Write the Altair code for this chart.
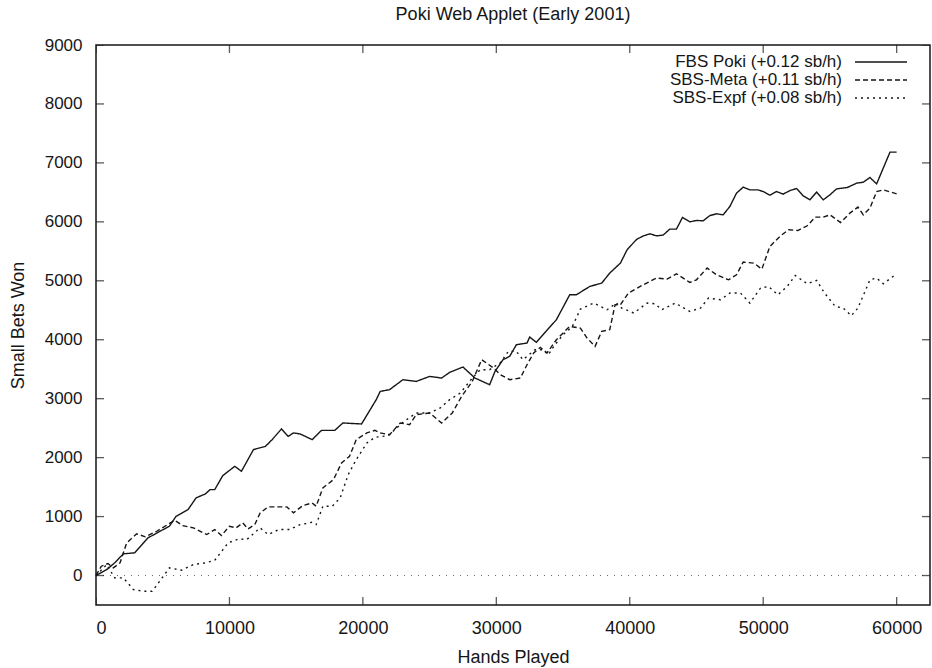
import altair as alt
import pandas as pd

# ---- data (hands played in thousands, small bets won) ----
series_names = ["FBS Poki (+0.12 sb/h)", "SBS-Meta (+0.11 sb/h)", "SBS-Expf (+0.08 sb/h)"]

fbs_x = [0, 0.8, 1.4, 2.05, 2.9, 3.9, 4.8, 5.5, 6.0, 6.9, 7.5, 8.2, 8.55, 8.9, 9.5, 10.4, 10.9,
         11.8, 12.7, 13.2, 13.9, 14.4, 14.8, 15.3, 16.2, 16.9, 17.9, 18.5, 19.9, 20.4, 21.0, 21.3,
         22.0, 23.0, 24.0, 25.0, 25.9, 26.5, 27.5, 28.4, 29.5, 29.9, 30.5, 31.0, 31.5, 32.3, 32.5,
         33.0, 33.5, 34.5, 35.5, 36.0, 37.0, 37.9, 38.5, 39.3, 39.8, 40.5, 41.0, 41.5, 42.0, 42.5,
         43.0, 43.5, 43.95, 44.5, 45.0, 45.5, 46.0, 46.5, 47.0, 47.5, 48.0, 48.5, 49.0, 49.6, 50.0,
         50.5, 51.0, 51.5, 52.0, 52.5, 53.0, 53.5, 54.0, 54.5, 55.0, 55.5, 56.3, 57.0, 57.5, 58.0,
         58.5, 59.5, 60.0]
fbs_y = [0, 100, 215, 368, 385, 639, 751, 836, 1005, 1119, 1317, 1385, 1458, 1458, 1695, 1853, 1768,
         2136, 2192, 2305, 2487, 2361, 2419, 2402, 2305, 2463, 2463, 2588, 2571, 2758, 2983, 3124,
         3153, 3322, 3293, 3378, 3350, 3446, 3537, 3350, 3237, 3463, 3661, 3718, 3915, 3944, 4046,
         3955, 4085, 4339, 4763, 4763, 4904, 4961, 5131, 5300, 5526, 5700, 5760, 5797, 5763, 5775,
         5877, 5877, 6074, 6000, 6023, 6017, 6107, 6136, 6119, 6260, 6487, 6588, 6543, 6543, 6514,
         6453, 6514, 6470, 6531, 6565, 6441, 6373, 6504, 6373, 6458, 6560, 6582, 6656, 6673, 6752,
         6644, 7182, 7182]

meta_x = [0, 0.4, 0.9, 1.3, 1.8, 2.3, 3.05, 3.7, 4.55, 5.9, 6.5, 7.3, 8.3, 8.9, 9.4, 10.0, 10.5,
          11.0, 11.4, 11.9, 12.3, 12.9, 14.3, 14.8, 15.5, 16.2, 16.5, 17.0, 17.8, 18.4, 19.0, 19.5,
          20.3, 20.9, 21.3, 22.0, 22.8, 23.5, 24.0, 25.0, 25.9, 26.7, 27.4, 28.2, 28.9, 29.8, 30.3,
          31.0, 31.8, 32.3, 32.8, 33.3, 33.8, 34.5, 35.5, 36.3, 36.8, 37.4, 37.9, 38.5, 38.9, 39.3,
          39.9, 41.0, 42.0, 42.8, 43.5, 44.5, 45.0, 45.8, 46.5, 47.4, 48.0, 48.5, 49.3, 49.9, 50.5,
          51.3, 51.9, 52.6, 53.3, 53.9, 54.5, 55.0, 55.8, 56.5, 57.1, 57.5, 58.0, 58.5, 59.0, 60.0]
meta_y = [0, 158, 203, 130, 215, 554, 707, 656, 751, 937, 847, 808, 695, 780, 678, 836, 808,
          893, 791, 864, 1063, 1164, 1164, 1063, 1187, 1232, 1175, 1487, 1627, 1910, 2022, 2305,
          2419, 2463, 2419, 2390, 2588, 2560, 2729, 2758, 2588, 2758, 3039, 3293, 3661, 3520, 3407,
          3322, 3350, 3576, 3775, 3870, 3775, 4000, 4226, 4198, 4029, 3887, 4141, 4170, 4594, 4594,
          4792, 4932, 5046, 5029, 5119, 4972, 5017, 5216, 5102, 5017, 5102, 5317, 5300, 5198, 5582,
          5763, 5865, 5853, 5933, 6080, 6080, 6119, 5989, 6148, 6250, 6119, 6232, 6514, 6543, 6475]

expf_x = [0, 0.8, 1.4, 2.05, 2.8, 3.5, 4.2, 4.5, 5.5, 6.4, 7.3, 8.2, 8.9, 9.9, 10.7, 11.3, 12.3,
          12.9, 13.7, 14.5, 15.3, 16.2, 16.5, 17.0, 17.7, 18.3, 18.9, 19.5, 20.3, 20.9, 21.9, 23.0,
          24.0, 25.0, 25.8, 26.5, 27.3, 28.2, 28.8, 29.5, 30.3, 30.9, 31.5, 32.0, 32.9, 33.5, 33.9,
          34.3, 35.0, 35.7, 36.3, 37.3, 38.3, 39.0, 39.4, 40.3, 41.3, 41.9, 42.4, 43.4, 44.5, 45.3,
          45.9, 46.8, 47.5, 48.3, 49.0, 49.8, 50.4, 51.1, 51.8, 52.4, 53.3, 54.0, 54.6, 55.4, 56.0,
          56.6, 57.1, 58.0, 58.5, 59.0, 60.0]
expf_y = [0, 186, -39, -39, -237, -266, -266, -181, 130, 90, 186, 215, 259, 554, 622, 610, 808,
          695, 780, 780, 864, 903, 864, 1175, 1175, 1317, 1712, 1966, 2249, 2344, 2373, 2599,
          2758, 2758, 2843, 2983, 3096, 3350, 3492, 3492, 3610, 3802, 3802, 3661, 3830, 3830, 3746,
          3887, 4085, 4226, 4520, 4622, 4509, 4622, 4537, 4453, 4622, 4610, 4509, 4622, 4480, 4537,
          4707, 4678, 4792, 4792, 4622, 4876, 4904, 4763, 4904, 5090, 4949, 5006, 4792, 4565, 4537,
          4407, 4537, 5017, 5046, 4949, 5119]

x_ticks = [0, 10000, 20000, 30000, 40000, 50000, 60000]
y_ticks = [0, 1000, 2000, 3000, 4000, 5000, 6000, 7000, 8000, 9000]
x_domain = [0, 62500]
y_domain = [-500, 9000]

FONT = "Liberation Sans"
INK = "#161616"

rows = []
for name, xs, ys in zip(series_names, [fbs_x, meta_x, expf_x], [fbs_y, meta_y, expf_y]):
    for xv, yv in zip(xs, ys):
        rows.append({"hands": xv * 1000, "won": yv, "series": name})
df = pd.DataFrame(rows)

xscale = alt.Scale(domain=x_domain, nice=False, zero=False)
yscale = alt.Scale(domain=y_domain, nice=False, zero=False)

lines = alt.Chart(df).mark_line(strokeWidth=1.4, color=INK).encode(
    x=alt.X("hands:Q", scale=xscale,
            axis=alt.Axis(values=x_ticks, format="d", title="Hands Played",
                          labelPadding=14, titleY=52, titleBaseline="middle")),
    y=alt.Y("won:Q", scale=yscale,
            axis=alt.Axis(values=y_ticks, format="d", title="Small Bets Won",
                          labelPadding=14, labelFontSize=17, titleX=-78, titleY=280,
                          titleAngle=270, titleAlign="center", titleBaseline="middle")),
    strokeDash=alt.StrokeDash("series:N",
                              scale=alt.Scale(domain=series_names, range=[[1, 0], [5, 3], [2, 4]]),
                              legend=None),
    detail="series:N",
)

zero_line = alt.Chart(pd.DataFrame({"z": [0]})).mark_rule(
    color="#666", strokeWidth=1, strokeDash=[1, 6]
).encode(y=alt.Y("z:Q", scale=yscale))

xt = pd.DataFrame({"v": x_ticks})
yt = pd.DataFrame({"v": y_ticks})
tick_bottom = alt.Chart(xt).mark_tick(orient="vertical", size=16, thickness=1.3, color=INK, clip=True).encode(
    x=alt.X("v:Q", scale=xscale), y=alt.datum(y_domain[0]))
tick_top = alt.Chart(xt).mark_tick(orient="vertical", size=16, thickness=1.3, color=INK, clip=True).encode(
    x=alt.X("v:Q", scale=xscale), y=alt.datum(y_domain[1]))
tick_left = alt.Chart(yt).mark_tick(orient="horizontal", size=16, thickness=1.3, color=INK, clip=True).encode(
    y=alt.Y("v:Q", scale=yscale), x=alt.datum(x_domain[0]))
tick_right = alt.Chart(yt).mark_tick(orient="horizontal", size=16, thickness=1.3, color=INK, clip=True).encode(
    y=alt.Y("v:Q", scale=yscale), x=alt.datum(x_domain[1]))

# key (gnuplot style: label then sample line), placed in the top-right corner
dashes = [[1, 0], [5, 3], [2, 4]]
key_layers = []
for i, (name, dash) in enumerate(zip(series_names, dashes)):
    yy = 17 + 18 * i
    key_layers.append(
        alt.Chart(pd.DataFrame({"t": [name]})).mark_text(
            align="right", baseline="middle", font=FONT, fontSize=17, color=INK
        ).encode(text="t:N", x=alt.value(746), y=alt.value(yy))
    )
    key_layers.append(
        alt.Chart(pd.DataFrame({"t": [name]})).mark_rule(
            color=INK, strokeWidth=1.4, strokeDash=dash
        ).encode(x=alt.value(759), x2=alt.value(811), y=alt.value(yy))
    )

chart = alt.layer(
    zero_line, lines, tick_bottom, tick_top, tick_left, tick_right, *key_layers
).properties(
    width=834, height=560,
    background="white",
    title=alt.TitleParams("Poki Web Applet (Early 2001)", font=FONT, fontSize=18,
                          fontWeight="normal", color=INK, anchor="middle", offset=12),
    autosize=alt.AutoSizeParams(type="none"),
    padding={"left": 96, "top": 45, "right": 2, "bottom": 63},
).configure_view(
    stroke=INK, strokeWidth=1.5
).configure_axis(
    domain=False, ticks=False, grid=False,
    labelFont=FONT, labelFontSize=18, labelColor=INK,
    titleFont=FONT, titleFontSize=18, titleFontWeight="normal", titleColor=INK,
)

chart.save("out.html", embed_options={"renderer": "svg", "actions": False})
